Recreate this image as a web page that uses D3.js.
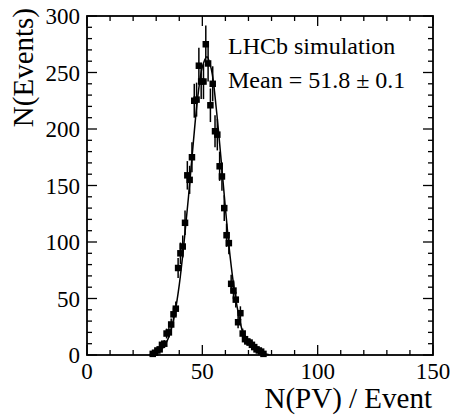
<!DOCTYPE html>
<html>
<head>
<meta charset="utf-8">
<script src="https://cdn.jsdelivr.net/npm/d3@7"></script>
<style>
  html, body { margin: 0; padding: 0; background: #fff; }
  svg { display: block; }
  text { font-family: "Liberation Serif", "DejaVu Serif", serif; fill: #000; }
</style>
</head>
<body>
<svg id="chart" width="451" height="415"></svg>
<script>
// ---- data ----
const binCenters = [28.5,29.5,30.5,31.5,32.5,33.5,34.5,35.5,36.5,37.5,38.5,39.5,40.5,41.5,42.5,43.5,44.5,45.5,46.5,47.5,48.5,49.5,50.5,51.5,52.5,53.5,54.5,55.5,56.5,57.5,58.5,59.5,60.5,61.5,62.5,63.5,64.5,65.5,66.5,67.5,68.5,69.5,70.5,71.5,72.5,73.5,74.5,75.5,76.5];
const counts     = [1,2,4,5,9,10,19,20,27,36,41,77,90,96,117,159,155,175,225,226,256,242,242,275,258,221,240,198,195,167,158,130,106,99,63,57,49,29,37,19,14,12,11,9,7,5,4,3,1];

// fitted curve
const fitX = [27,28,30,32,34,36,38,40,42,44,46,48,50,52,54,56,58,60,62,64,66,68,70,72,74,76,78,79];
const fitY = [0.3,0.6,1.8,4.5,9.5,19,36,62,98,140,186,228,255,264,252,219,176,130,88,56,33,17,10,6,3,1.5,0.6,0.3];

const xTicks = [0, 50, 100, 150];
const yTicks = [0, 50, 100, 150, 200, 250, 300];
const xTitle = "N(PV) / Event";
const yTitle = "N(Events)";
const label1 = "LHCb simulation";
const label2 = "Mean = 51.8 \u00b1 0.1";

// ---- layout ----
const L = 87, R = 433, T = 16, B = 355;
const svg = d3.select("#chart");
const x = d3.scaleLinear().domain([0, 150]).range([L, R]);
const y = d3.scaleLinear().domain([0, 300]).range([B, T]);

const majLen = 10, minLen = 5;
const xMinor = d3.range(0, 151, 10).filter(v => !xTicks.includes(v));
const yMinor = d3.range(0, 301, 10).filter(v => !yTicks.includes(v));

const g = svg.append("g");

function tickLines(vals, len, horizontal) {
  vals.forEach(v => {
    if (horizontal) {
      g.append("line").attr("x1", x(v)).attr("x2", x(v)).attr("y1", B).attr("y2", B - len)
        .attr("stroke", "#000").attr("stroke-width", 1.3);
      g.append("line").attr("x1", x(v)).attr("x2", x(v)).attr("y1", T).attr("y2", T + len)
        .attr("stroke", "#000").attr("stroke-width", 1.3);
    } else {
      g.append("line").attr("x1", L).attr("x2", L + len).attr("y1", y(v)).attr("y2", y(v))
        .attr("stroke", "#000").attr("stroke-width", 1.3);
      g.append("line").attr("x1", R).attr("x2", R - len).attr("y1", y(v)).attr("y2", y(v))
        .attr("stroke", "#000").attr("stroke-width", 1.3);
    }
  });
}
tickLines(xTicks, majLen, true);
tickLines(xMinor, minLen, true);
tickLines(yTicks, majLen, false);
tickLines(yMinor, minLen, false);

g.append("rect").attr("x", L).attr("y", T).attr("width", R - L).attr("height", B - T)
  .attr("fill", "none").attr("stroke", "#000").attr("stroke-width", 1.8);

g.selectAll(".xl").data(xTicks).enter().append("text")
  .attr("x", d => x(d)).attr("y", 379)
  .attr("text-anchor", "middle").attr("font-size", 23).text(d => d);
g.selectAll(".yl").data(yTicks).enter().append("text")
  .attr("x", 80).attr("y", d => y(d) + 8)
  .attr("text-anchor", "end").attr("font-size", 23).text(d => d);

g.append("text").attr("x", 432).attr("y", 408).attr("text-anchor", "end")
  .attr("font-size", 29).text(xTitle);
g.append("text").attr("transform", "translate(33,8) rotate(-90)")
  .attr("text-anchor", "end").attr("font-size", 29).text(yTitle);

const line = d3.line().x((d, i) => x(fitX[i])).y((d, i) => y(fitY[i])).curve(d3.curveCatmullRom);
g.append("path").attr("d", line(fitX)).attr("fill", "none").attr("stroke", "#000").attr("stroke-width", 1.5);

g.selectAll(".err").data(binCenters).enter().append("line")
  .attr("x1", d => x(d)).attr("x2", d => x(d))
  .attr("y1", (d, i) => y(counts[i] + Math.sqrt(counts[i])))
  .attr("y2", (d, i) => y(Math.max(0, counts[i] - Math.sqrt(counts[i]))))
  .attr("stroke", "#000").attr("stroke-width", 1.5);

const ms = 6.5;
g.selectAll(".pt").data(binCenters).enter().append("rect")
  .attr("x", d => x(d) - ms / 2).attr("y", (d, i) => y(counts[i]) - ms / 2)
  .attr("width", ms).attr("height", ms).attr("fill", "#000");

g.append("text").attr("x", 228).attr("y", 54).attr("font-size", 24).text(label1);
g.append("text").attr("x", 228).attr("y", 88).attr("font-size", 24).text(label2);
</script>
</body>
</html>
